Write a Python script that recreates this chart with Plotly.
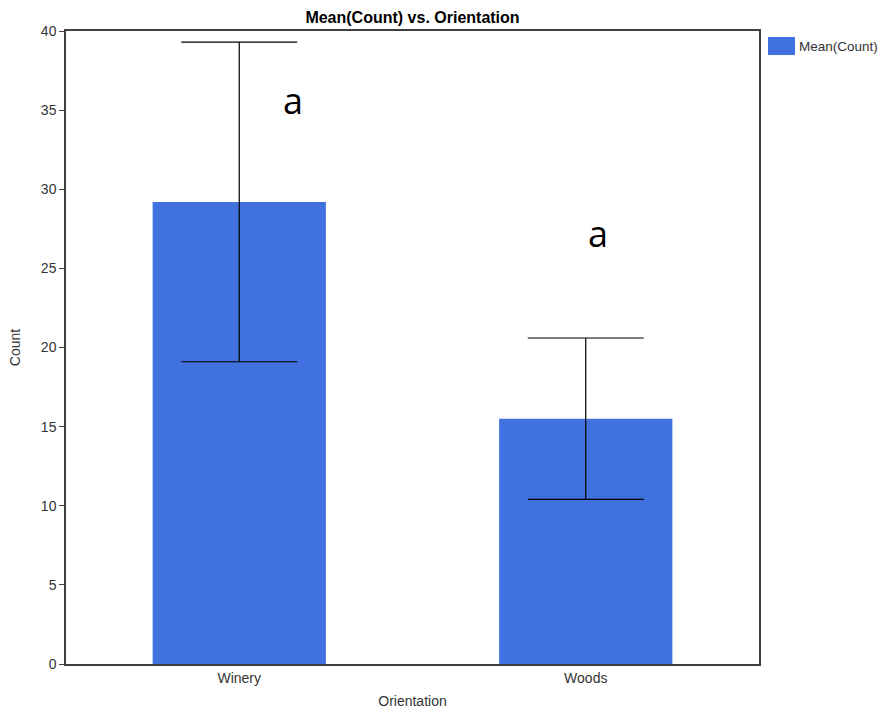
import plotly.graph_objects as go

# Mean count per orientation with error bars and group letters
categories = ["Winery", "Woods"]
mean_count = [29.2, 15.5]
error = [10.1, 5.1]
group_letters = ["a", "a"]
letter_y = [35.6, 27.2]
series_name = "Mean(Count)"

y_ticks = [0, 5, 10, 15, 20, 25, 30, 35, 40]

BAR_COLOR = "#4171DE"
letter_xshift = [54, 12]

fig = go.Figure()
fig.add_trace(go.Bar(
    x=categories,
    y=mean_count,
    name=series_name,
    marker=dict(color=BAR_COLOR, line=dict(width=0)),
    error_y=dict(type="data", array=error, visible=True,
                 color="black", thickness=1.2, width=58),
    showlegend=False,
))

for cat, letter, ly, dx in zip(categories, group_letters, letter_y, letter_xshift):
    fig.add_annotation(x=cat, y=ly, text=letter, showarrow=False, xshift=dx,
                       font=dict(family="Open Sans, Liberation Sans", size=36, color="black"))

# legend drawn as a swatch + label to the right of the plot
fig.add_shape(type="rect", xref="paper", yref="paper",
              x0=1.013, x1=1.052, y0=0.962, y1=0.9905,
              fillcolor=BAR_COLOR, line=dict(width=0))
fig.add_annotation(xref="paper", yref="paper", x=1.055, y=0.9763, text=series_name,
                   showarrow=False, xanchor="left", yanchor="middle",
                   font=dict(family="Liberation Sans, Arial", size=13.5, color="#333333"))

axis_line = dict(showline=True, linecolor="#404040", linewidth=1.5, mirror=True,
                 ticks="outside", ticklen=5, tickcolor="#404040",
                 tickfont=dict(family="Liberation Sans, Arial", size=14, color="#333333"),
                 showgrid=False, zeroline=False, automargin=False)

fig.update_layout(
    width=894, height=710,
    margin=dict(l=66, r=135, t=31, b=46),
    plot_bgcolor="white", paper_bgcolor="white",
    bargap=0.5,
    title=dict(text="<b>Mean(Count) vs. Orientation</b>", x=412.5 / 894, xanchor="center",
               y=1 - 17 / 710, yanchor="middle",
               font=dict(family="Liberation Sans, Arial", size=16, color="black")),
    xaxis=dict(**axis_line, title=dict(text="Orientation", standoff=12,
               font=dict(family="Liberation Sans, Arial", size=14, color="#333333"))),
    yaxis=dict(**axis_line, range=[0, 40], tickvals=y_ticks,
               title=dict(text="Count", standoff=17,
               font=dict(family="Liberation Sans, Arial", size=14, color="#333333"))),
)
fig.update_xaxes(ticks="")

fig.write_html("out.html")
